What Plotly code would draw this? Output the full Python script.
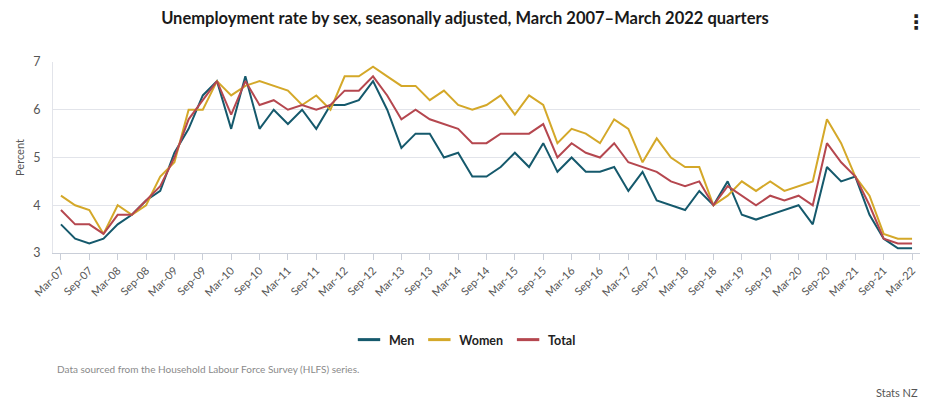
import plotly.graph_objects as go

quarters = []
for yr in range(7, 23):
    for m in ["Mar", "Jun", "Sep", "Dec"]:
        quarters.append(f"{m}-{yr:02d}")
quarters = quarters[:61]

men = [3.6, 3.3, 3.2, 3.3, 3.6, 3.8, 4.1, 4.3, 5.1, 5.6, 6.3, 6.6,
       5.6, 6.7, 5.6, 6.0, 5.7, 6.0, 5.6, 6.1, 6.1, 6.2, 6.6, 6.0,
       5.2, 5.5, 5.5, 5.0, 5.1, 4.6, 4.6, 4.8, 5.1, 4.8, 5.3, 4.7,
       5.0, 4.7, 4.7, 4.8, 4.3, 4.7, 4.1, 4.0, 3.9, 4.3, 4.0, 4.5,
       3.8, 3.7, 3.8, 3.9, 4.0, 3.6, 4.8, 4.5, 4.6, 3.8, 3.3, 3.1, 3.1]
women = [4.2, 4.0, 3.9, 3.4, 4.0, 3.8, 4.0, 4.6, 4.9, 6.0, 6.0, 6.6,
         6.3, 6.5, 6.6, 6.5, 6.4, 6.1, 6.3, 6.0, 6.7, 6.7, 6.9, 6.7,
         6.5, 6.5, 6.2, 6.4, 6.1, 6.0, 6.1, 6.3, 5.9, 6.3, 6.1, 5.3,
         5.6, 5.5, 5.3, 5.8, 5.6, 4.9, 5.4, 5.0, 4.8, 4.8, 4.0, 4.2,
         4.5, 4.3, 4.5, 4.3, 4.4, 4.5, 5.8, 5.3, 4.6, 4.2, 3.4, 3.3, 3.3]
total = [3.9, 3.6, 3.6, 3.4, 3.8, 3.8, 4.1, 4.4, 5.0, 5.8, 6.2, 6.6,
         5.9, 6.6, 6.1, 6.2, 6.0, 6.1, 6.0, 6.1, 6.4, 6.4, 6.7, 6.3,
         5.8, 6.0, 5.8, 5.7, 5.6, 5.3, 5.3, 5.5, 5.5, 5.5, 5.7, 5.0,
         5.3, 5.1, 5.0, 5.3, 4.9, 4.8, 4.7, 4.5, 4.4, 4.5, 4.0, 4.4,
         4.2, 4.0, 4.2, 4.1, 4.2, 4.0, 5.3, 4.9, 4.6, 4.0, 3.3, 3.2, 3.2]

series = [("Men", men, "#15596c"), ("Women", women, "#d4a829"), ("Total", total, "#b5474f")]

idx = list(range(len(quarters)))
tick_idx = idx[::2]
tick_txt = [quarters[i] for i in tick_idx]

FONT = "Lato"
fig = go.Figure()
for name, vals, col in series:
    fig.add_trace(go.Scatter(x=idx, y=vals, mode="lines", name=name,
                             line=dict(color=col, width=2), showlegend=False,
                             hovertemplate="%{text}: %{y}%<extra>" + name + "</extra>",
                             text=quarters))
for name, vals, col in series:
    fig.add_trace(go.Scatter(x=[None], y=[None], mode="markers", name=name,
                             marker=dict(symbol="line-ew-open", size=16, color=col,
                                         line=dict(color=col, width=3)),
                             showlegend=True))

fig.update_layout(
    width=930, height=400,
    margin=dict(l=53, r=10, t=62, b=147),
    paper_bgcolor="white", plot_bgcolor="white",
    font=dict(family=FONT, color="#555", size=12),
    title=dict(text="<b>Unemployment rate by sex, seasonally adjusted, March 2007\u2013March 2022 quarters</b>",
               x=0.5, xref="container", xanchor="center", y=1 - 18 / 400, yanchor="middle",
               font=dict(family=FONT, size=16.5, color="#1a1a1a")),
    legend=dict(orientation="h", x=(465 - 53) / 867, xanchor="center", y=(253 - 340) / 191,
                yanchor="middle",
                font=dict(family=FONT, size=12.5, color="#222", weight="bold"),
                itemwidth=30, tracegroupgap=0),
    showlegend=True,
)
fig.update_xaxes(range=[-0.56, 60.56], tickmode="array", tickvals=tick_idx, ticktext=tick_txt,
                 tickangle=-45, ticks="outside", ticklen=6, tickcolor="#c9ced8",
                 showline=True, linecolor="#c9ced8", linewidth=1, showgrid=False,
                 zeroline=False, tickfont=dict(size=11, color="#555"))
fig.update_yaxes(range=[3, 7], dtick=1, showgrid=True, gridcolor="#e2e4ea", gridwidth=1,
                 showline=True, linecolor="#e2e4ea", zeroline=False,
                 title=dict(text="Percent", font=dict(size=11, color="#555"), standoff=6),
                 tickfont=dict(size=12.5, color="#555"), ticklen=0, ticklabelstandoff=9)

fig.add_annotation(text="Data sourced from the Household Labour Force Survey (HLFS) series.",
                   xref="paper", yref="paper", x=(55 - 53) / 867, y=(253 - 369) / 191,
                   xanchor="left", yanchor="middle", showarrow=False,
                   font=dict(family=FONT, size=10, color="#8a8a8a"))
fig.add_annotation(text="Stats NZ", xref="paper", yref="paper", x=1.0, y=(253 - 392) / 191,
                   xanchor="right", yanchor="middle", showarrow=False,
                   font=dict(family=FONT, size=11, color="#555"))
fig.add_annotation(text="<b>\u22ee</b>", xref="paper", yref="paper", x=(916 - 53) / 867,
                   y=(253 - 22) / 191, xanchor="center", yanchor="middle", showarrow=False,
                   font=dict(family="DejaVu Sans", size=20, color="#222"))

fig.write_html("out.html", config={"displayModeBar": False},
               post_script="document.body.style.margin='0';document.body.style.overflow='hidden';")
